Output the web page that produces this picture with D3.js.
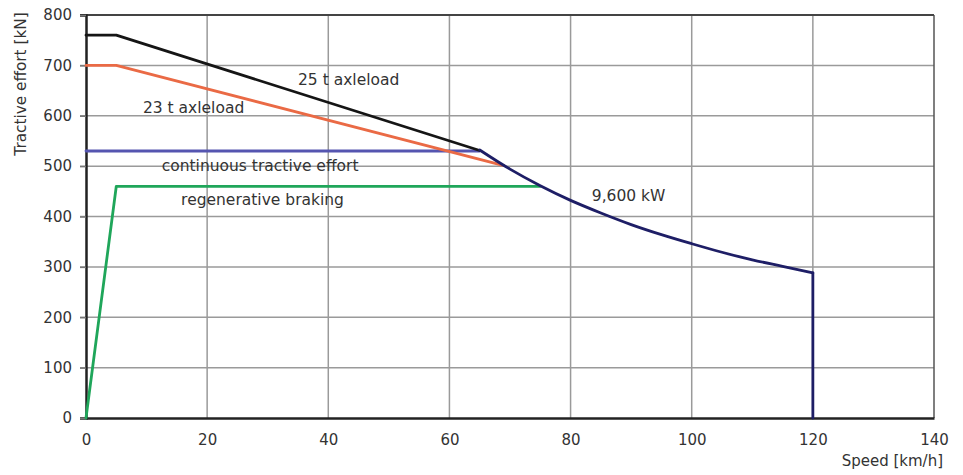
<!DOCTYPE html>
<html>
<head>
<meta charset="utf-8">
<script src="https://cdn.jsdelivr.net/npm/d3@7"></script>
<style>
  body { margin: 0; background: #fff; }
  text { font-family: "DejaVu Sans", sans-serif; fill: #333; }
</style>
</head>
<body>
<div id="chart"></div>
<script>
// Tractive effort curves, speed [km/h] vs effort [kN]
const xTicks = [0, 20, 40, 60, 80, 100, 120, 140];
const yTicks = [0, 100, 200, 300, 400, 500, 600, 700, 800];

const axle25 = [[0, 760], [5, 760], [65, 531]];
const axle23 = [[0, 700], [5, 700], [69, 501]];
const continuous = [[0, 530], [65, 530]];
const braking = [[0, 0], [5, 460], [75, 460]];
// constant power part
const powerSpeeds = [65, 70, 75, 80, 85, 90, 95, 100, 105, 110, 115, 120];
const powerEffort = [532, 494, 461, 432, 407, 384, 364, 346, 329, 314, 301, 288];
const maxSpeed = [[120, 288], [120, 0]];

const labels = [
  { text: "25 t axleload", x: 35.0, y: 661 },
  { text: "23 t axleload", x: 9.4, y: 605 },
  { text: "continuous tractive effort", x: 12.5, y: 490 },
  { text: "regenerative braking", x: 15.7, y: 423 },
  { text: "9,600 kW", x: 83.5, y: 431 }
];

const width = 963, height = 475;
const svg = d3.select("#chart").append("svg")
  .attr("width", width)
  .attr("height", height);

const x = d3.scaleLinear().domain([0, 140]).range([86, 934]);
const y = d3.scaleLinear().domain([0, 800]).range([418, 15]);

// grid
svg.append("g")
  .selectAll("line.v")
  .data(xTicks.slice(1, -1))
  .join("line")
  .attr("x1", d => x(d)).attr("x2", d => x(d))
  .attr("y1", y(0)).attr("y2", y(800))
  .attr("stroke", "#9a9a9a").attr("stroke-width", 1.5);

svg.append("g")
  .selectAll("line.h")
  .data(yTicks.slice(1, -1))
  .join("line")
  .attr("x1", x(0) - 6).attr("x2", x(140))
  .attr("y1", d => y(d)).attr("y2", d => y(d))
  .attr("stroke", "#9a9a9a").attr("stroke-width", 1.5);

// frame
svg.append("line")
  .attr("x1", x(140)).attr("x2", x(140)).attr("y1", y(0)).attr("y2", y(800))
  .attr("stroke", "#555").attr("stroke-width", 1.5);
svg.append("line")
  .attr("x1", x(0) - 6).attr("x2", x(140)).attr("y1", y(800)).attr("y2", y(800))
  .attr("stroke", "#444").attr("stroke-width", 2);

// axes
const xAxis = svg.append("g")
  .attr("transform", `translate(0,${y(0)})`)
  .call(d3.axisBottom(x).tickValues(xTicks).tickSize(0).tickPadding(16));
const yAxis = svg.append("g")
  .attr("transform", `translate(${x(0)},0)`)
  .call(d3.axisLeft(y).tickValues(yTicks).tickSize(6).tickPadding(8));

[xAxis, yAxis].forEach(a => {
  a.select(".domain").attr("stroke", "#222").attr("stroke-width", 2.5);
  a.selectAll(".tick line").attr("stroke", "#777").attr("stroke-width", 1.5);
  a.selectAll("text")
    .style("font-family", "'DejaVu Sans', sans-serif")
    .style("font-size", "15px")
    .attr("fill", "#333");
});

svg.append("text")
  .attr("transform", "translate(26,84) rotate(-90)")
  .attr("text-anchor", "middle")
  .style("font-size", "15.3px")
  .text("Tractive effort [kN]");

svg.append("text")
  .attr("x", 943).attr("y", 466)
  .attr("text-anchor", "end")
  .style("font-size", "15px")
  .text("Speed [km/h]");

// curves
const line = d3.line().x(d => x(d[0])).y(d => y(d[1]));
const smooth = d3.line().x(d => x(d[0])).y(d => y(d[1])).curve(d3.curveMonotoneX);
const powerCurve = powerSpeeds.map((s, i) => [s, powerEffort[i]]);

const series = [
  { d: line(braking), color: "#1fa65a" },
  { d: line(continuous), color: "#5555b0" },
  { d: line(axle23), color: "#ea6a45" },
  { d: line(axle25), color: "#151515" },
  { d: smooth(powerCurve), color: "#1e1e66" },
  { d: line(maxSpeed), color: "#1e1e66" }
];

svg.append("g")
  .selectAll("path")
  .data(series)
  .join("path")
  .attr("d", d => d.d)
  .attr("fill", "none")
  .attr("stroke", d => d.color)
  .attr("stroke-width", 2.8)
  .attr("stroke-linejoin", "round")
  .attr("stroke-linecap", "round");

svg.append("g")
  .selectAll("text")
  .data(labels)
  .join("text")
  .attr("x", d => x(d.x))
  .attr("y", d => y(d.y))
  .style("font-size", "15.5px")
  .text(d => d.text);
</script>
</body>
</html>
